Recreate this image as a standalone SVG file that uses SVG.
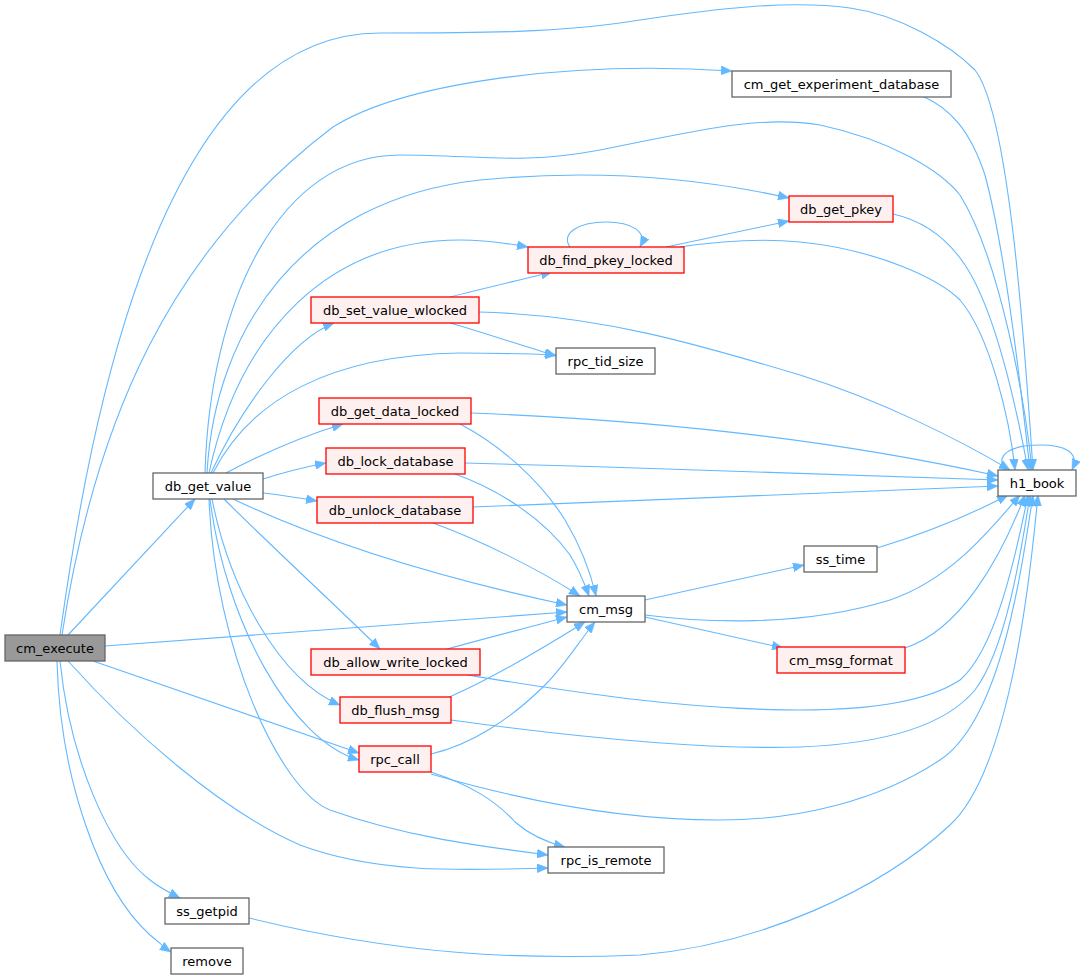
<svg xmlns="http://www.w3.org/2000/svg" width="1081" height="980" viewBox="0 0 1081 980">
<style>
.n rect{fill:#ffffff;stroke:#666666;stroke-width:1.3}
.r rect{fill:#fff0f0;stroke:#ff0000;stroke-width:1.3}
.root rect{fill:#999999;stroke:#666666;stroke-width:1.3}
text{font-family:"DejaVu Sans","Liberation Sans",sans-serif;font-size:13px;fill:#000000;text-anchor:middle}
#edges path{fill:none;stroke:#63b8ff;stroke-width:1.1;marker-end:url(#ah)}
</style>
<defs>
<marker id="ah" markerUnits="userSpaceOnUse" markerWidth="12" markerHeight="9" refX="11" refY="4.5" orient="auto">
<path d="M0,0 L11,4.5 L0,9 z" fill="#63b8ff" stroke="#63b8ff" stroke-width="0.5"/>
</marker>
</defs>
<rect width="1081" height="980" fill="#ffffff"/>
<g id="edges">
<path d="M60,635 C90,420 160,33 380,33 C480,33 560,33 640,20 C720,8 790,0 850,8 C900,15 950,45 975,70 C1010,115 1025,350 1033,470"/>
<path d="M62,635 C95,420 170,250 333,127 C400,85 560,60 732,71"/>
<path d="M205,473 C210,300 280,155 400,155 C480,155 520,165 600,150 C700,130 760,115 820,125 C890,140 940,170 960,195 C1000,260 1025,400 1032,470"/>
<path d="M207,473 C215,330 300,200 480,180 C600,168 700,178 789,198"/>
<path d="M209,473 C240,330 330,240 460,240 C490,240 510,244 528,247"/>
<path d="M211,473 C240,410 290,340 334,323"/>
<path d="M213,473 C250,400 330,355 460,353 C500,353 530,354 556,355"/>
<path d="M226,473 C260,455 300,437 343,424"/>
<path d="M263,479 C285,472 305,467 326,463"/>
<path d="M263,493 C282,495 300,498 317,501"/>
<path d="M233,499 C330,545 450,580 567,605"/>
<path d="M224,499 C270,545 330,600 380,649"/>
<path d="M212,499 C230,590 280,680 340,705"/>
<path d="M210,499 C225,620 290,740 359,760"/>
<path d="M209,499 C215,650 280,790 330,810 C400,835 470,845 548,855"/>
<path d="M68,635 L195,499"/>
<path d="M105,646 L567,612"/>
<path d="M93,661 L359,753"/>
<path d="M68,661 C130,730 220,810 300,845 C380,875 470,870 548,868"/>
<path d="M60,661 C70,760 110,850 150,880 C160,888 170,893 180,898"/>
<path d="M57,661 C60,780 100,890 150,935 C160,943 165,948 171,952"/>
<path d="M570,247 C560,233 580,222 606,222 C632,222 648,232 640,247"/>
<path d="M666,247 L789,221"/>
<path d="M680,247 C720,241 760,238 800,242 C880,250 940,280 960,300 C990,335 1010,420 1015,470"/>
<path d="M450,297 C485,288 520,280 552,272"/>
<path d="M450,323 C485,333 520,345 556,356"/>
<path d="M479,312 C600,315 700,345 800,375 C880,400 960,440 1010,470"/>
<path d="M471,413 C600,418 800,432 998,476"/>
<path d="M460,424 C500,445 540,480 565,520 C580,545 590,570 596,596"/>
<path d="M465,463 C650,468 850,474 998,480"/>
<path d="M455,474 C500,490 545,520 570,555 C578,568 584,582 589,596"/>
<path d="M473,507 C650,500 850,492 998,486"/>
<path d="M433,523 C480,540 540,570 580,596"/>
<path d="M447,649 C490,637 530,627 567,617"/>
<path d="M447,698 C490,680 540,650 585,622"/>
<path d="M431,754 C470,745 510,720 545,685 C565,665 580,640 595,622"/>
<path d="M431,772 C470,785 495,800 515,822 C530,835 545,842 565,847"/>
<path d="M467,675 C560,690 680,710 800,710 C880,710 930,700 960,680 C995,650 1015,560 1028,495"/>
<path d="M451,720 C560,735 700,750 800,747 C900,743 950,720 975,690 C1005,650 1020,560 1030,495"/>
<path d="M431,774 C520,800 620,820 720,820 C800,820 880,800 940,760 C1000,720 1020,580 1033,495"/>
<path d="M249,918 C400,955 520,960 640,955 C760,945 880,890 950,825 C1010,770 1030,580 1038,495"/>
<path d="M922,96 C950,108 970,130 985,175 C1005,250 1020,380 1030,470"/>
<path d="M893,214 C920,220 945,235 965,265 C995,310 1015,400 1028,470"/>
<path d="M645,600 L804,565"/>
<path d="M645,617 L783,648"/>
<path d="M645,615 C700,622 800,628 890,600 C950,580 990,530 1020,495"/>
<path d="M877,548 C920,535 970,515 1008,495"/>
<path d="M905,648 C960,630 1000,560 1025,495"/>
<path d="M1005,470 C995,455 1010,445 1040,445 C1065,445 1080,452 1072,470"/>
</g>
<g id="node_cm_execute" class="root"><rect x="5" y="635" width="100" height="26"/><text x="55" y="652.5">cm_execute</text></g>
<g id="node_db_get_value" class="n"><rect x="153" y="473" width="110" height="26"/><text x="208" y="490.5">db_get_value</text></g>
<g id="node_cm_get_experiment_database" class="n"><rect x="732" y="71" width="219" height="26"/><text x="841.5" y="88.5">cm_get_experiment_database</text></g>
<g id="node_db_get_pkey" class="r"><rect x="789" y="196" width="104" height="26"/><text x="841" y="213.5">db_get_pkey</text></g>
<g id="node_db_find_pkey_locked" class="r"><rect x="528" y="247" width="156" height="26"/><text x="606" y="264.5">db_find_pkey_locked</text></g>
<g id="node_db_set_value_wlocked" class="r"><rect x="311" y="297" width="168" height="26"/><text x="395" y="314.5">db_set_value_wlocked</text></g>
<g id="node_rpc_tid_size" class="n"><rect x="556" y="348" width="99" height="26"/><text x="605.5" y="365.5">rpc_tid_size</text></g>
<g id="node_db_get_data_locked" class="r"><rect x="319" y="398" width="152" height="26"/><text x="395" y="415.5">db_get_data_locked</text></g>
<g id="node_db_lock_database" class="r"><rect x="326" y="448" width="139" height="26"/><text x="395.5" y="465.5">db_lock_database</text></g>
<g id="node_db_unlock_database" class="r"><rect x="317" y="497" width="156" height="26"/><text x="395" y="514.5">db_unlock_database</text></g>
<g id="node_cm_msg" class="n"><rect x="567" y="596" width="78" height="26"/><text x="606" y="613.5">cm_msg</text></g>
<g id="node_db_allow_write_locked" class="r"><rect x="311" y="649" width="169" height="26"/><text x="395.5" y="666.5">db_allow_write_locked</text></g>
<g id="node_db_flush_msg" class="r"><rect x="340" y="697" width="111" height="26"/><text x="395.5" y="714.5">db_flush_msg</text></g>
<g id="node_rpc_call" class="r"><rect x="359" y="746" width="72" height="26"/><text x="395" y="763.5">rpc_call</text></g>
<g id="node_rpc_is_remote" class="n"><rect x="548" y="847" width="116" height="26"/><text x="606" y="864.5">rpc_is_remote</text></g>
<g id="node_ss_getpid" class="n"><rect x="165" y="898" width="84" height="26"/><text x="207" y="915.5">ss_getpid</text></g>
<g id="node_remove" class="n"><rect x="171" y="948" width="72" height="26"/><text x="207" y="965.5">remove</text></g>
<g id="node_ss_time" class="n"><rect x="804" y="546" width="73" height="26"/><text x="840.5" y="563.5">ss_time</text></g>
<g id="node_cm_msg_format" class="r"><rect x="777" y="647" width="128" height="26"/><text x="841" y="664.5">cm_msg_format</text></g>
<g id="node_h1_book" class="n"><rect x="998" y="470" width="78" height="26"/><text x="1037" y="487.5">h1_book</text></g>
</svg>
